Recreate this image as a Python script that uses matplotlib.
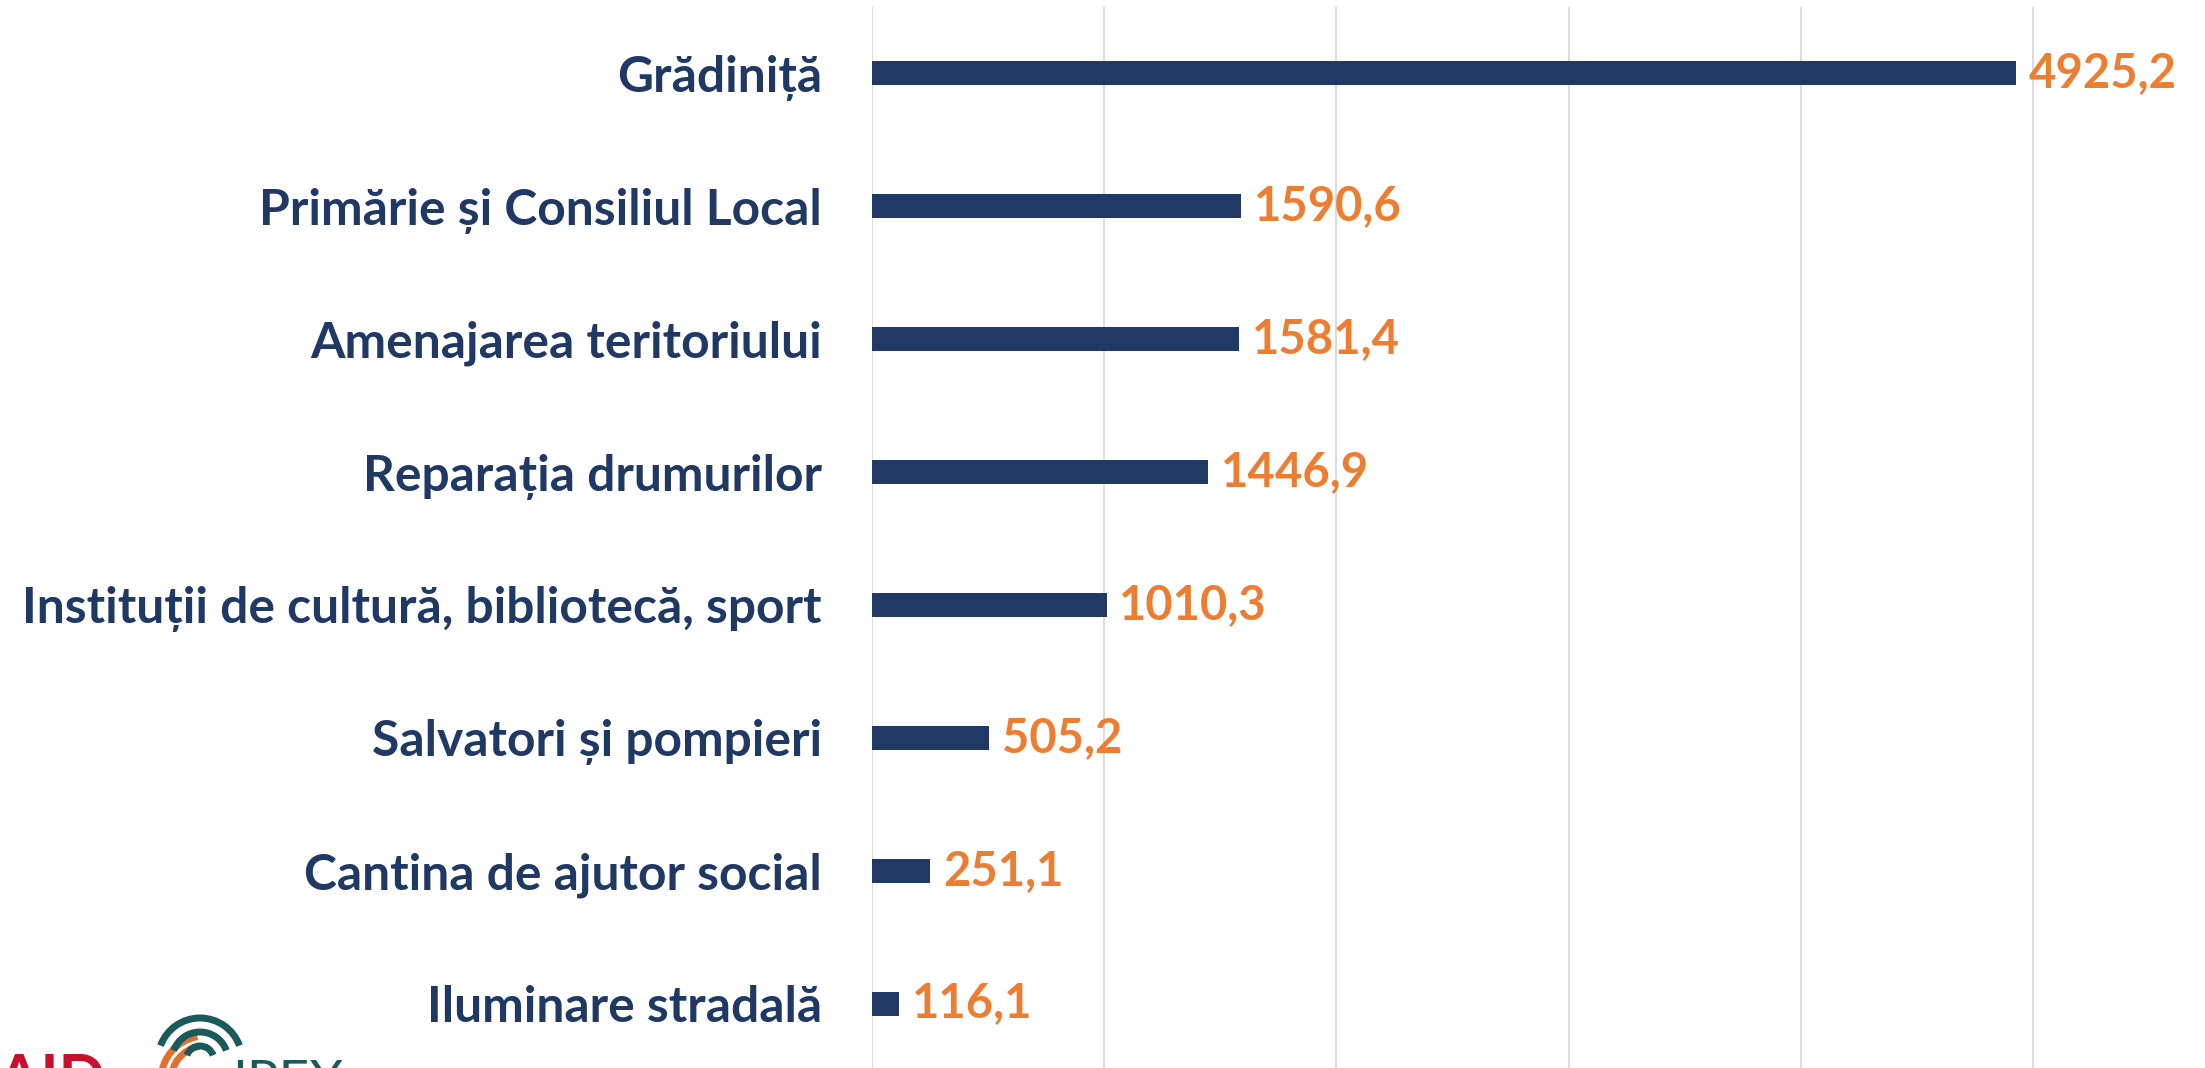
import matplotlib.pyplot as plt
from matplotlib.patches import Arc

categories = ["Grădiniță", "Primărie și Consiliul Local", "Amenajarea teritoriului",
              "Reparația drumurilor", "Instituții de cultură, bibliotecă, sport",
              "Salvatori și pompieri", "Cantina de ajutor social", "Iluminare stradală"]
values = [4925.2, 1590.6, 1581.4, 1446.9, 1010.3, 505.2, 251.1, 116.1]
value_labels = ["4925,2", "1590,6", "1581,4", "1446,9", "1010,3", "505,2", "251,1", "116,1"]

navy = "#1F3864"
orange = "#ED7D31"

plt.rcParams['font.family'] = ['Lato', 'DejaVu Sans']

fig = plt.figure(figsize=(22.05, 10.68), dpi=100)
W, H = 2205, 1068
ax = fig.add_axes([872 / W, -2 / H, (W - 872) / W, (1068 - 5) / H])

y = list(range(len(categories)))
ax.barh(y, values, height=0.18, color=navy)
for yi, v, lab in zip(y, values, value_labels):
    ax.text(v + 55, yi, lab, va="center", ha="left", color=orange,
            fontsize=34, fontweight="bold")

ax.set_xlim(0, (W - 872) / 0.2322)
ax.set_ylim(len(categories) - 0.5, -0.5)
ax.set_xticks([0, 1000, 2000, 3000, 4000, 5000])
ax.set_xticklabels([])
ax.grid(axis="x", color="#D9D9D9", linewidth=1.3)
ax.set_axisbelow(True)
ax.tick_params(length=0)
for s in ax.spines.values():
    s.set_visible(False)
ax.set_yticks(y)
ax.set_yticklabels(categories, fontsize=35.8, fontweight="bold", color=navy)
ax.tick_params(axis="y", pad=36)

# cropped logos bottom-left
fig.text(106 / W, -30 / H, "USAID", ha="right", va="baseline", color="#C8102E",
         fontsize=44, fontweight="bold")
fig.text(232 / W, -30 / H, "IPEX", ha="left", va="baseline", color="#1A5A5A",
         fontsize=38, fontweight="normal")
for r, c in [(14, "#E07030"), (24, "#E07030")]:
    fig.add_artist(Arc((205, 1068 - 1080), 2 * r + 40, 2 * r + 40, theta1=100, theta2=180,
                       transform=None, color=c, lw=5))
for r in [14, 28, 42]:
    fig.add_artist(Arc((200, 1068 - 1080 + 20), r * 2, r * 2, theta1=20, theta2=160,
                       transform=None, color="#1A5A5A", lw=5))

fig.savefig("out.png", dpi=100)
